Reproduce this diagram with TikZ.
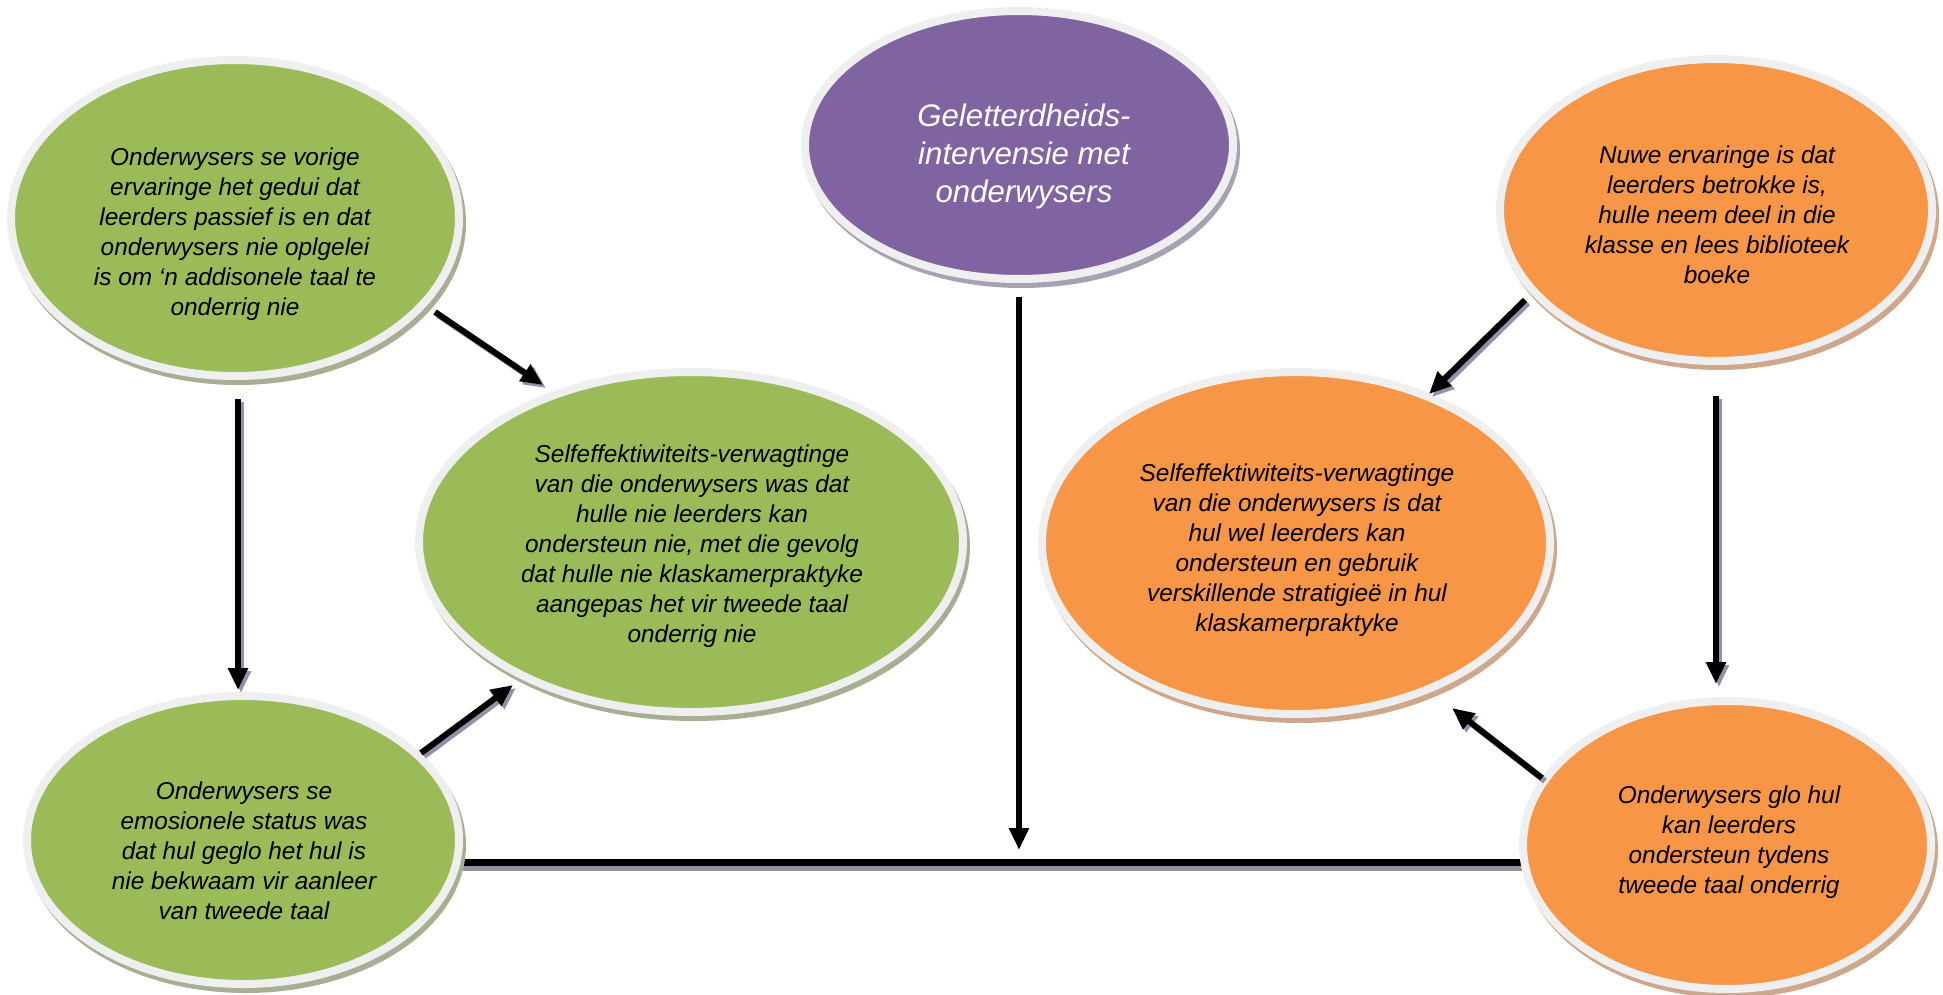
\documentclass[tikz,border=0pt]{standalone}
\usepackage{fontspec}
\setmainfont{Liberation Sans}
\usetikzlibrary{shapes.geometric,arrows.meta}
\definecolor{grn}{HTML}{9BBB59}
\definecolor{org}{HTML}{F79646}
\definecolor{pur}{HTML}{8064A2}
\definecolor{rimc}{HTML}{EFEFEF}
\definecolor{grnsh}{HTML}{A8AE94}
\definecolor{orgsh}{HTML}{CDA88C}
\definecolor{pursh}{HTML}{A6A2B3}
\definecolor{ash}{HTML}{978EA8}
\tikzset{
  bub/.style={ellipse, draw=rimc, line width=4pt, inner sep=0pt},
  txt/.style={align=center, font=\itshape\fontsize{12.2}{15}\selectfont, inner sep=0pt},
  ptxt/.style={align=center, text=white, font=\itshape\fontsize{15.6}{19}\selectfont, inner sep=0pt},
  arrw/.style={line width=3pt, -{Triangle[length=11pt,width=9.5pt]}},
  arrsh/.style={arrw, draw=ash, fill=ash},
  hline/.style={line width=3.5pt},
  hlinesh/.style={line width=3pt, draw=ash},
}
\newcommand\bubble[7]{%
  \fill[#7] (#2+3,#3+5) ellipse [x radius=#4, y radius=#5];
  \node[bub, fill=#6, minimum width=#4pt-4pt, minimum height=#5pt-4pt] (#1) at (#2,#3) {};}
\newcommand\sharrow[2]{%
  \draw[arrsh] ([shift={(3,3)}]#1) -- ([shift={(3,3)}]#2);
  \draw[arrw] (#1) -- (#2);}
\begin{document}
\begin{tikzpicture}[x=0.5pt,y=-0.5pt]
\useasboundingbox (0,0) rectangle (1943,995);

% horizontal base line (behind bubbles)
\coordinate (hl) at (455,862);
\coordinate (hr) at (1528,862);
\draw[hlinesh] ([shift={(0,6)}]hl) -- ([shift={(0,6)}]hr);
\draw[hline] (hl) -- (hr);

% bubbles
\bubble{tl}{235}{218}{228}{162}{grn}{grnsh}
\bubble{cl}{691}{542}{276}{174}{grn}{grnsh}
\bubble{bl}{243}{840}{220}{148}{grn}{grnsh}
\bubble{pu}{1019}{145}{218}{138}{pur}{pursh}
\bubble{tr}{1716}{210}{220}{155}{org}{orgsh}
\bubble{cr}{1296}{543}{258}{175}{org}{orgsh}
\bubble{br}{1727}{845}{208}{148}{org}{orgsh}

% texts
\node[txt] (tlt) at (235,234) {Onderwysers se vorige\\ervaringe het gedui dat\\leerders passief is en dat\\onderwysers nie oplgelei\\is om ‘n addisonele taal te\\onderrig nie};
\node[txt] (clt) at (692,546) {Selfeffektiwiteits-verwagtinge\\van die onderwysers was dat\\hulle nie leerders kan\\ondersteun nie, met die gevolg\\dat hulle nie klaskamerpraktyke\\aangepas het vir tweede taal\\onderrig nie};
\node[txt] (blt) at (244,851) {Onderwysers se\\emosionele status was\\dat hul geglo het hul is\\nie bekwaam vir aanleer\\van tweede taal};
\node[ptxt] (put) at (1024,156) {Geletterdheids-\\intervensie met\\onderwysers};
\node[txt] (trt) at (1717,215) {Nuwe ervaringe is dat\\leerders betrokke is,\\hulle neem deel in die\\klasse en lees biblioteek\\boeke};
\node[txt] (crt) at (1297,550) {Selfeffektiwiteits-verwagtinge\\van die onderwysers is dat\\hul wel leerders kan\\ondersteun en gebruik\\verskillende stratigieë in hul\\klaskamerpraktyke};
\node[txt] (brt) at (1729,842) {Onderwysers glo hul\\kan leerders\\ondersteun tydens\\tweede taal onderrig};

% arrow end points
\coordinate (a1s) at (435,312);  \coordinate (a1e) at (543,385);
\coordinate (a2s) at (238,399);  \coordinate (a2e) at (238,690);
\coordinate (a3s) at (421,753);  \coordinate (a3e) at (513,685);
\coordinate (a4s) at (1019,297); \coordinate (a4e) at (1019,850);
\coordinate (a5s) at (1525,300); \coordinate (a5e) at (1429,394);
\coordinate (a6s) at (1716,396); \coordinate (a6e) at (1716,684);
\coordinate (a7s) at (1542,778); \coordinate (a7e) at (1452,708);

\sharrow{a1s}{a1e}
\sharrow{a2s}{a2e}
\sharrow{a3s}{a3e}
\draw[arrw] (a4s) -- (a4e);
\sharrow{a5s}{a5e}
\sharrow{a6s}{a6e}
\sharrow{a7s}{a7e}
\end{tikzpicture}
\end{document}
